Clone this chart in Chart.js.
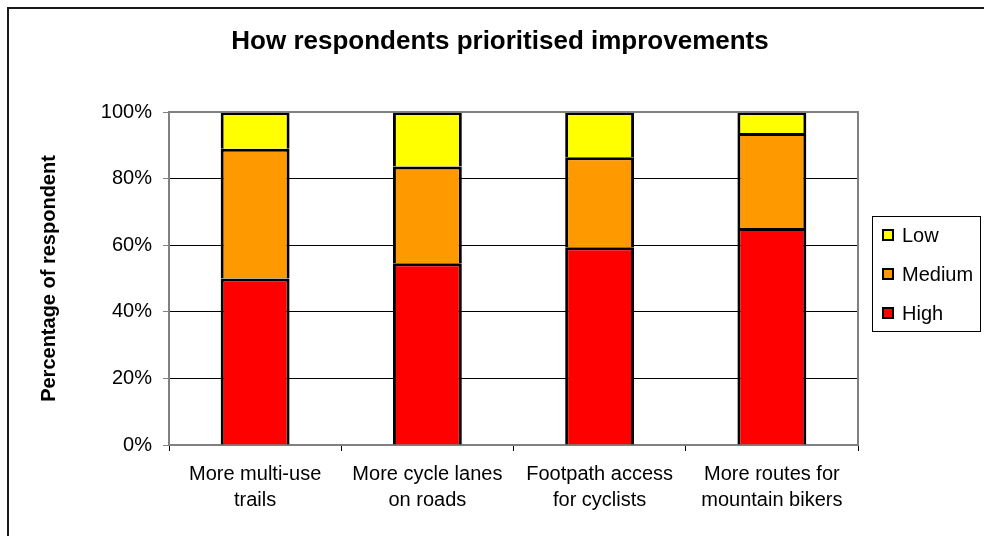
<!DOCTYPE html>
<html>
<head>
<meta charset="utf-8">
<script src="https://cdn.jsdelivr.net/npm/chart.js@4.4.1/dist/chart.umd.min.js"></script>
<style>
  html, body { margin: 0; padding: 0; background: #ffffff; }
  #wrap { width: 984px; height: 536px; position: relative; }
</style>
</head>
<body>
<div id="wrap"><canvas id="c" width="984" height="536"></canvas></div>
<script>
const chartTitle = 'How respondents prioritised improvements';
const yAxisTitle = 'Percentage of respondent';
const categories = [
  ['More multi-use', 'trails'],
  ['More cycle lanes', 'on roads'],
  ['Footpath access', 'for cyclists'],
  ['More routes for', 'mountain bikers']
];
const seriesNames = ['High', 'Medium', 'Low'];
const highValues = [50.0, 54.6, 59.4, 65.2];
const mediumValues = [39.0, 29.0, 27.0, 28.5];
const lowValues = [11.0, 16.4, 13.6, 6.3];
const seriesColors = ['#FF0000', '#FF9900', '#FFFF00'];
const yTicks = [0, 20, 40, 60, 80, 100];

const FONT = '"Liberation Sans", Arial, sans-serif';

const decorPlugin = {
  id: 'decor',
  afterDraw(chart) {
    const ctx = chart.ctx;
    const a = chart.chartArea;
    ctx.save();
    // plot border (top and right)
    ctx.strokeStyle = '#808080';
    ctx.lineWidth = 2;
    ctx.beginPath();
    ctx.moveTo(a.left, a.top);
    ctx.lineTo(a.right, a.top);
    ctx.lineTo(a.right, a.bottom);
    ctx.stroke();
    // outer frame (top and left visible)
    ctx.strokeStyle = '#1a1a1a';
    ctx.lineWidth = 2;
    ctx.beginPath();
    ctx.moveTo(8, 540);
    ctx.lineTo(8, 8);
    ctx.lineTo(990, 8);
    ctx.stroke();
    // title
    ctx.fillStyle = '#000000';
    ctx.font = 'bold 26px ' + FONT;
    ctx.textAlign = 'center';
    ctx.textBaseline = 'middle';
    ctx.fillText(chartTitle, 500, 42);
    // legend
    const lx = 872, ly = 216, lw = 108, lh = 115;
    ctx.strokeStyle = '#000000';
    ctx.lineWidth = 1;
    ctx.strokeRect(lx + 0.5, ly + 0.5, lw, lh);
    const order = [2, 1, 0];
    const rowY = [235, 274, 313];
    ctx.font = '20px ' + FONT;
    ctx.textAlign = 'left';
    order.forEach((si, i) => {
      const y = rowY[i];
      ctx.fillStyle = seriesColors[si];
      ctx.fillRect(883, y - 5, 10, 10);
      ctx.strokeStyle = '#000000';
      ctx.lineWidth = 2;
      ctx.strokeRect(883, y - 5, 10, 10);
      ctx.fillStyle = '#000000';
      ctx.fillText(seriesNames[si], 902, y + 1);
    });
    ctx.restore();
  }
};

const valuesBySeries = [highValues, mediumValues, lowValues];

new Chart(document.getElementById('c'), {
  type: 'bar',
  data: {
    labels: categories,
    datasets: seriesNames.map((name, i) => ({
      label: name,
      data: valuesBySeries[i],
      backgroundColor: seriesColors[i],
      borderColor: '#000000',
      borderWidth: 3,
      categoryPercentage: 0.8,
      barPercentage: 0.5
    }))
  },
  options: {
    responsive: false,
    animation: false,
    devicePixelRatio: 1,
    layout: { padding: { top: 112, right: 126, left: 0, bottom: 0 } },
    plugins: {
      legend: { display: false },
      title: { display: false },
      tooltip: { enabled: false }
    },
    scales: {
      x: {
        stacked: true,
        grid: {
          offset: true,
          drawOnChartArea: false,
          drawTicks: true,
          tickLength: 6,
          tickColor: '#000000'
        },
        border: { color: '#808080', width: 2 },
        ticks: {
          color: '#000000',
          font: { family: FONT, size: 20, lineHeight: 1.3 },
          padding: 10,
          maxRotation: 0,
          autoSkip: false
        },
        afterFit(scale) { scale.height = 91; }
      },
      y: {
        stacked: true,
        min: 0,
        max: 100,
        afterBuildTicks(scale) { scale.ticks = yTicks.map(v => ({ value: v })); },
        grid: {
          color: ctx => (ctx.tick && (ctx.tick.value === 0 || ctx.tick.value === 100)) ? 'rgba(0,0,0,0)' : '#000000',
          lineWidth: 1,
          tickLength: 6,
          tickColor: '#808080'
        },
        border: { color: '#808080', width: 2 },
        ticks: {
          color: '#000000',
          font: { family: FONT, size: 20 },
          padding: 11,
          callback: v => v + '%'
        },
        title: {
          display: true,
          text: yAxisTitle,
          color: '#000000',
          font: { family: FONT, size: 20, weight: 'bold', lineHeight: 1.2 },
          padding: { top: 37, bottom: 0 }
        },
        afterFit(scale) { scale.width = 169; }
      }
    }
  },
  plugins: [decorPlugin]
});
</script>
</body>
</html>
